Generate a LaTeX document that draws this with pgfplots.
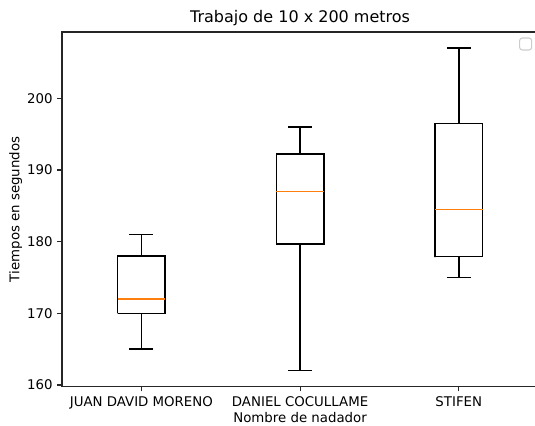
\documentclass[border=0pt]{standalone}
\usepackage{pgfplots}
\pgfplotsset{compat=1.18}
\usepackage{fontspec}
\setmainfont{DejaVu Sans}
\definecolor{mplorange}{HTML}{FF7F0E}
\begin{document}
\begin{tikzpicture}
\begin{axis}[
  name=ax,
  scale only axis,
  width=357.12bp, height=266.11bp,
  xmin=0.5, xmax=3.5,
  ymin=159.75, ymax=209.25,
  xtick={1,2,3},
  xticklabels={JUAN DAVID MORENO, DANIEL COCULLAME, STIFEN},
  ytick={160,170,180,190,200},
  tick align=outside,
  major tick length=3.5bp,
  tick style={black!85, line width=0.8bp},
  xtick pos=bottom, ytick pos=left,
  axis line style={black!85, line width=0.8bp},
  /pgf/number format/assume math mode=true,
  ticklabel style={font=\fontsize{10bp}{12bp}\selectfont},
  label style={font=\fontsize{10bp}{12bp}\selectfont},
  title style={font=\fontsize{12bp}{14bp}\selectfont, yshift=-5bp},
  xlabel shift=-4bp,
  ylabel shift=-3bp,
  title={Trabajo de 10 x 200 metros},
  xlabel={Nombre de nadador},
  ylabel={Tiempos en segundos},
  unbounded coords=jump,
  every axis plot/.append style={line width=1.1bp, mark=none, line join=miter},
]
% boxes
\addplot[black] coordinates {(0.85,170) (1.15,170) (1.15,178) (0.85,178) (0.85,170) (0.85,170.01)};
\addplot[black] coordinates {(1.85,179.7) (2.15,179.7) (2.15,192.2) (1.85,192.2) (1.85,179.7) (1.85,179.71)};
\addplot[black] coordinates {(2.85,177.9) (3.15,177.9) (3.15,196.5) (2.85,196.5) (2.85,177.9) (2.85,177.91)};
% whiskers and caps
\addplot[black] coordinates {(1,165) (1,170) (nan,nan) (1,178) (1,181) (nan,nan) (0.925,165) (1.075,165) (nan,nan) (0.925,181) (1.075,181)};
\addplot[black] coordinates {(2,162) (2,179.7) (nan,nan) (2,192.2) (2,196) (nan,nan) (1.925,162) (2.075,162) (nan,nan) (1.925,196) (2.075,196)};
\addplot[black] coordinates {(3,175) (3,177.9) (nan,nan) (3,196.5) (3,207) (nan,nan) (2.925,175) (3.075,175) (nan,nan) (2.925,207) (3.075,207)};
% medians
\addplot[mplorange, line width=1.3bp] coordinates {(0.85,172) (1.15,172)};
\addplot[mplorange, line width=1.3bp] coordinates {(1.85,187) (2.15,187)};
\addplot[mplorange, line width=1.3bp] coordinates {(2.85,184.5) (3.15,184.5)};
\end{axis}
\draw[black!20, line width=0.8bp, rounded corners=2bp] ([xshift=-13.9bp,yshift=-4.5bp]ax.north east) rectangle ([xshift=-4.9bp,yshift=-13.5bp]ax.north east);
\pgfresetboundingbox
\useasboundingbox ([xshift=-46.5bp,yshift=-28.7bp]ax.south west) rectangle ([xshift=354.75bp,yshift=290.1bp]ax.south west);
\end{tikzpicture}
\end{document}
